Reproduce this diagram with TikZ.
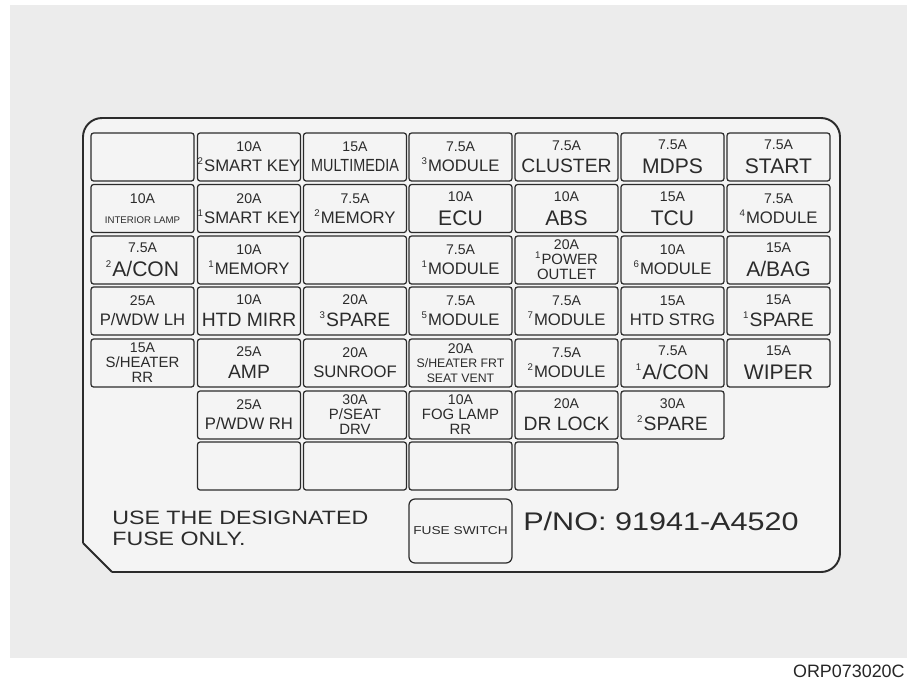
\documentclass[tikz,border=0pt]{standalone}
\usepackage{fontspec}
\setmainfont{Liberation Sans}
\newfontfamily\cadwide[FakeStretch=1.2]{Liberation Sans}
\newfontfamily\cadnarrow[FakeStretch=0.82]{Liberation Sans}
\usetikzlibrary{positioning}

\definecolor{inkc}{HTML}{2B2B2B}
\definecolor{bgc}{HTML}{ECECEC}
\definecolor{panelc}{HTML}{F4F4F4}

\newcommand{\fuseamp}[1]{{\rmfamily\fontsize{8}{8}\selectfont #1}}
\newcommand{\fuseidx}[1]{\raisebox{0.8ex}{\fontsize{5.5}{5.5}\selectfont #1}\kern0.6pt}

\begin{document}
\begin{tikzpicture}[
    x=0.02cm, y=-0.02cm,
    fuse/.style={draw=inkc, line width=0.7pt, rounded corners=1.5pt, fill=panelc,
                 minimum width=2.06cm, minimum height=0.96cm, inner sep=0pt,
                 align=center, text=inkc, font=\fontsize{9.5}{11.5}\selectfont},
    bigl/.style={font=\fontsize{12}{13.5}\selectfont},
    midl/.style={font=\fontsize{11}{12.5}\selectfont},
    narrowl/.style={font=\cadnarrow\fontsize{10}{11.5}\selectfont},
    tinyl/.style={font=\fontsize{5.5}{11}\selectfont},
    three/.style={font=\fontsize{8.5}{8.5}\selectfont},
    threesm/.style={font=\fontsize{7}{8.2}\selectfont},
    panel/.style={draw=inkc, line width=1.1pt}
]
\useasboundingbox (0,0) rectangle (907,680);
\fill[white] (0,0) rectangle (907,680);
\fill[bgc] (10,5) rectangle (907,658);

% label outline
\filldraw[panel, fill=panelc, rounded corners=0.38cm]
    (83,543) -- (83,118) -- (840,118) -- (840,572) -- (112,572);
\draw[panel] (112,572) -- (83,543);

% cell centres
\foreach \c/\x in {1/142.5,2/249,3/355,4/460.5,5/566.5,6/672.5,7/778.5}
  \foreach \r/\y in {1/157,2/208.5,3/260,4/311,5/363,6/415,7/466}
    \coordinate (p\r\c) at (\x,\y);

% row 1
\node[fuse] (f11) at (p11) {};
\node[fuse] (f12) at (p12) {\fuseamp{10A}\\\fuseidx{2}SMART KEY};
\node[fuse, narrowl] (f13) at (p13) {\fuseamp{15A}\\MULTIMEDIA};
\node[fuse] (f14) at (p14) {\fuseamp{7.5A}\\\fuseidx{3}MODULE};
\node[fuse, midl] (f15) at (p15) {\fuseamp{7.5A}\\CLUSTER};
\node[fuse, bigl] (f16) at (p16) {\fuseamp{7.5A}\\MDPS};
\node[fuse, bigl] (f17) at (p17) {\fuseamp{7.5A}\\START};

% row 2
\node[fuse, tinyl] (f21) at (p21) {\fuseamp{10A}\\INTERIOR LAMP};
\node[fuse] (f22) at (p22) {\fuseamp{20A}\\\fuseidx{1}SMART KEY};
\node[fuse] (f23) at (p23) {\fuseamp{7.5A}\\\fuseidx{2}MEMORY};
\node[fuse, bigl] (f24) at (p24) {\fuseamp{10A}\\ECU};
\node[fuse, bigl] (f25) at (p25) {\fuseamp{10A}\\ABS};
\node[fuse, bigl] (f26) at (p26) {\fuseamp{15A}\\TCU};
\node[fuse] (f27) at (p27) {\fuseamp{7.5A}\\\fuseidx{4}MODULE};

% row 3
\node[fuse, bigl] (f31) at (p31) {\fuseamp{7.5A}\\\fuseidx{2}A/CON};
\node[fuse] (f32) at (p32) {\fuseamp{10A}\\\fuseidx{1}MEMORY};
\node[fuse] (f33) at (p33) {};
\node[fuse] (f34) at (p34) {\fuseamp{7.5A}\\\fuseidx{1}MODULE};
\node[fuse, three] (f35) at (p35) {\fuseamp{20A}\\\fuseidx{1}POWER\\OUTLET};
\node[fuse] (f36) at (p36) {\fuseamp{10A}\\\fuseidx{6}MODULE};
\node[fuse, bigl] (f37) at (p37) {\fuseamp{15A}\\A/BAG};

% row 4
\node[fuse] (f41) at (p41) {\fuseamp{25A}\\P/WDW LH};
\node[fuse, midl] (f42) at (p42) {\fuseamp{10A}\\HTD MIRR};
\node[fuse, midl] (f43) at (p43) {\fuseamp{20A}\\\fuseidx{3}SPARE};
\node[fuse] (f44) at (p44) {\fuseamp{7.5A}\\\fuseidx{5}MODULE};
\node[fuse] (f45) at (p45) {\fuseamp{7.5A}\\\fuseidx{7}MODULE};
\node[fuse] (f46) at (p46) {\fuseamp{15A}\\HTD STRG};
\node[fuse, midl] (f47) at (p47) {\fuseamp{15A}\\\fuseidx{1}SPARE};

% row 5
\node[fuse, three] (f51) at (p51) {\fuseamp{15A}\\S/HEATER\\RR};
\node[fuse, midl] (f52) at (p52) {\fuseamp{25A}\\AMP};
\node[fuse] (f53) at (p53) {\fuseamp{20A}\\SUNROOF};
\node[fuse, threesm] (f54) at (p54) {\fuseamp{20A}\\S/HEATER FRT\\SEAT VENT};
\node[fuse] (f55) at (p55) {\fuseamp{7.5A}\\\fuseidx{2}MODULE};
\node[fuse, bigl] (f56) at (p56) {\fuseamp{7.5A}\\\fuseidx{1}A/CON};
\node[fuse, bigl] (f57) at (p57) {\fuseamp{15A}\\WIPER};

% row 6
\node[fuse] (f62) at (p62) {\fuseamp{25A}\\P/WDW RH};
\node[fuse, three] (f63) at (p63) {\fuseamp{30A}\\P/SEAT\\DRV};
\node[fuse, three] (f64) at (p64) {\fuseamp{10A}\\FOG LAMP\\RR};
\node[fuse, midl] (f65) at (p65) {\fuseamp{20A}\\DR LOCK};
\node[fuse, midl] (f66) at (p66) {\fuseamp{30A}\\\fuseidx{2}SPARE};

% row 7
\foreach \c in {2,...,5}
  \node[fuse] (f7\c) at (p7\c) {};

% bottom line
\node[fuse, minimum height=1.28cm, rounded corners=0.12cm,
      font=\cadwide\fontsize{6.5}{7}\selectfont] (fswitch) at (460.5,531) {FUSE SWITCH};
\node[anchor=north west, align=left, inner sep=0pt, text=inkc,
      font=\cadwide\fontsize{11}{12}\selectfont] (usenote) at (112,511) {USE THE DESIGNATED\\FUSE ONLY.};
\node[anchor=base west, inner sep=0pt, text=inkc,
      font=\cadwide\fontsize{14.5}{14.5}\selectfont] (partno) at (523,530) {P/NO: 91941-A4520};

\node[anchor=base east, inner sep=0pt, text=black!85,
      font=\fontsize{10.2}{10.2}\selectfont] (figcode) at (905,677) {ORP073020C};
\end{tikzpicture}
\end{document}
